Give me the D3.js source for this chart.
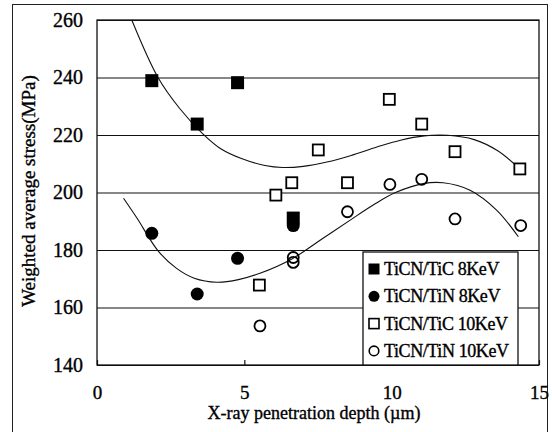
<!DOCTYPE html>
<html>
<head>
<meta charset="utf-8">
<script src="https://cdn.jsdelivr.net/npm/d3@7"></script>
<style>
  body { margin: 0; background: #fff; }
  svg, svg text { font-family: "Liberation Serif", "Times New Roman", Times, "DejaVu Serif", serif !important; }
  svg text { stroke: #000; stroke-width: 0.35px; }
</style>
</head>
<body>
<div id="chart-area"></div>
<script>
// data
var seriesNames = ["TiCN/TiC 8KeV", "TiCN/TiN 8KeV", "TiCN/TiC 10KeV", "TiCN/TiN 10KeV"];

var tic8X = [1.86, 3.40, 4.77, 6.66];
var tic8Y = [238.9, 223.8, 238.2, 191.1];

var tin8X = [1.86, 3.40, 4.77, 6.66];
var tin8Y = [185.8, 164.7, 177.1, 188.5];

var tic10X = [5.51, 6.07, 6.61, 7.51, 8.50, 9.92, 11.02, 12.15, 14.35];
var tic10Y = [167.8, 199.1, 203.4, 214.8, 203.4, 232.4, 223.8, 214.2, 208.2];

var tin10X = [5.53, 6.66, 6.66, 8.50, 9.94, 11.02, 12.15, 14.38];
var tin10Y = [153.6, 177.4, 175.7, 193.3, 202.8, 204.6, 190.8, 188.5];

// trend curves (traced)
var upperX = [1.18, 2.07, 2.8, 3.6, 4.2, 4.9, 5.7, 6.3, 7.0, 7.8, 8.6, 9.5, 10.3, 11.1, 11.9, 12.8, 13.6, 14.39];
var upperY = [260, 240, 229.3, 220.3, 215.2, 211.8, 209.4, 208.7, 209.1, 210.6, 212.8, 215.8, 218.2, 219.7, 219.9, 218.4, 214.5, 207.8];

var lowerX = [0.9, 1.35, 2.08, 2.7, 3.3, 4.06, 4.8, 5.53, 6.6, 7.57, 8.58, 9.4, 10.11, 11.07, 11.75, 12.66, 13.56, 14.3];
var lowerY = [198, 191.2, 179.6, 173.6, 170.2, 168.8, 169.7, 171.9, 176.8, 183.4, 190.3, 195.8, 199.9, 203.1, 203.4, 200.8, 193.9, 184.6];

var xTicks = [0, 5, 10, 15];
var yTicks = [140, 160, 180, 200, 220, 240, 260];

var margin = { left: 97, right: 13, top: 20, bottom: 67 };
var width = 552 - margin.left - margin.right;
var height = 432 - margin.top - margin.bottom;

var svg = d3.select("#chart-area")
  .append("svg")
  .attr("width", 552)
  .attr("height", 432);

// outer frame
svg.append("rect")
  .attr("x", 12.5)
  .attr("y", 4.5)
  .attr("width", 535)
  .attr("height", 440)
  .attr("fill", "none")
  .attr("stroke", "#222")
  .attr("stroke-width", 1);

var g = svg.append("g")
  .attr("transform", "translate(" + margin.left + "," + margin.top + ")");

var x = d3.scaleLinear().domain([0, 15]).range([0, width]);
var y = d3.scaleLinear().domain([140, 260]).range([height, 0]);

// y axis + gridlines
var yAxis = g.append("g")
  .call(d3.axisLeft(y).tickValues(yTicks).tickSize(-width).tickPadding(14));
yAxis.select(".domain").remove();
yAxis.selectAll("line").attr("stroke", "#111").attr("stroke-width", 1.2);
yAxis.selectAll("text")
  .attr("font-size", "20px")
  .attr("fill", "#000");

// x axis
var xAxis = g.append("g")
  .attr("transform", "translate(0," + height + ")")
  .call(d3.axisBottom(x).tickValues(xTicks).tickSizeInner(-5).tickSizeOuter(0).tickPadding(21));
xAxis.select(".domain").remove();
xAxis.selectAll("line").attr("stroke", "#111").attr("stroke-width", 1.2);
xAxis.selectAll("text")
  .attr("font-size", "19px")
  .attr("fill", "#000");

// plot frame
g.append("rect")
  .attr("width", width)
  .attr("height", height)
  .attr("fill", "none")
  .attr("stroke", "#111")
  .attr("stroke-width", 1.3);

// axis titles
g.append("text")
  .attr("x", width / 2 - 4)
  .attr("y", 419 - margin.top)
  .attr("text-anchor", "middle")
  .attr("font-size", "18px")
  .text("X-ray penetration depth (\u00b5m)");

g.append("text")
  .attr("transform", "rotate(-90)")
  .attr("x", -(191 - margin.top))
  .attr("y", 35 - margin.left)
  .attr("text-anchor", "middle")
  .attr("font-size", "19px")
  .text("Weighted average stress(MPa)");

// trend curves
var line = d3.line()
  .x(d => x(d[0]))
  .y(d => y(d[1]))
  .curve(d3.curveCatmullRom.alpha(0.5));

g.append("path")
  .attr("d", line(d3.zip(upperX, upperY)))
  .attr("fill", "none")
  .attr("stroke", "#111")
  .attr("stroke-width", 1.1);

g.append("path")
  .attr("d", line(d3.zip(lowerX, lowerY)))
  .attr("fill", "none")
  .attr("stroke", "#111")
  .attr("stroke-width", 1.1);

// markers
function drawSquares(xs, ys, filled) {
  g.selectAll(null)
    .data(d3.zip(xs, ys))
    .enter()
    .append("rect")
    .attr("x", d => x(d[0]) - (filled ? 6.5 : 5.5))
    .attr("y", d => y(d[1]) - (filled ? 6.5 : 5.5))
    .attr("width", filled ? 13 : 11)
    .attr("height", filled ? 13 : 11)
    .attr("fill", filled ? "#000" : "#fff")
    .attr("stroke", "#000")
    .attr("stroke-width", filled ? 0 : 1.8);
}

function drawCircles(xs, ys, filled) {
  g.selectAll(null)
    .data(d3.zip(xs, ys))
    .enter()
    .append("circle")
    .attr("cx", d => x(d[0]))
    .attr("cy", d => y(d[1]))
    .attr("r", filled ? 6.5 : 5.5)
    .attr("fill", filled ? "#000" : "none")
    .attr("stroke", "#000")
    .attr("stroke-width", filled ? 0 : 1.8);
}

drawSquares(tic10X, tic10Y, false);
drawCircles(tin10X, tin10Y, false);
drawSquares(tic8X, tic8Y, true);
drawCircles(tin8X, tin8Y, true);

// legend
var legendX = 363 - margin.left;
var legendY = 252 - margin.top;
var legend = g.append("g")
  .attr("transform", "translate(" + legendX + "," + legendY + ")");

legend.append("rect")
  .attr("width", 155)
  .attr("height", height - legendY)
  .attr("fill", "#fff")
  .attr("stroke", "#111")
  .attr("stroke-width", 1.3);

var rows = legend.selectAll(".row")
  .data(seriesNames)
  .enter()
  .append("g")
  .attr("class", "row")
  .attr("transform", (d, i) => "translate(11," + (17 + i * 27.3) + ")");

rows.each(function(d, i) {
  var r = d3.select(this);
  if (i % 2 === 0) {
    r.append("rect")
      .attr("x", i === 0 ? -5.5 : -5)
      .attr("y", i === 0 ? -5.5 : -5)
      .attr("width", i === 0 ? 11 : 10)
      .attr("height", i === 0 ? 11 : 10)
      .attr("fill", i === 0 ? "#000" : "#fff")
      .attr("stroke", "#000")
      .attr("stroke-width", i === 0 ? 0 : 1.6);
  } else {
    r.append("circle")
      .attr("r", i === 1 ? 5.5 : 4.8)
      .attr("fill", i === 1 ? "#000" : "#fff")
      .attr("stroke", "#000")
      .attr("stroke-width", i === 1 ? 0 : 1.6);
  }
  r.append("text")
    .attr("x", 10)
    .attr("y", 6)
    .attr("font-size", "18px")
    .attr("letter-spacing", "-0.4px")
    .text(d);
});
</script>
</body>
</html>
